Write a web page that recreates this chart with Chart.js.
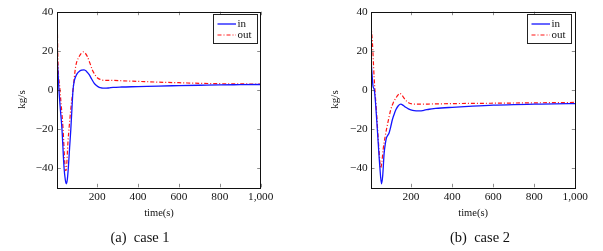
<!DOCTYPE html>
<html>
<head>
<meta charset="utf-8">
<script src="https://cdn.jsdelivr.net/npm/chart.js@4"></script>
<style>
  body { margin: 0; background: #fff; width: 603px; height: 251px; position: relative; overflow: hidden; }
  .box { position: absolute; top: 0; }
  .cap { position: absolute; top: 229px; font: 14.5px "Liberation Serif", serif; color: #111; transform: translateX(-50%); white-space: nowrap; }
</style>
</head>
<body>
<div class="box" style="left:0"><canvas id="case1" width="300" height="251"></canvas></div>
<div class="box" style="left:300px"><canvas id="case2" width="303" height="251"></canvas></div>
<div class="cap" style="left:140px">(a)&nbsp; case 1</div>
<div class="cap" style="left:480px">(b)&nbsp; case 2</div>
<script>
// case 1
const timeIn1 = [5, 9, 13, 20, 28, 38, 44, 49, 54, 59, 65, 71, 77, 82, 88, 95, 103, 112, 124, 136, 148, 161, 173, 185, 198, 210, 222, 234, 255, 278, 320, 400, 500, 600, 700, 800, 900, 1000];
const flowIn1 = [15.4, 8, 0, -10, -20.5, -40, -46, -48.2, -46, -40, -30, -20.5, -9, 0, 4.5, 6.8, 8.4, 9.4, 10, 10.2, 9.4, 7.7, 5.5, 3.4, 2, 1.2, 0.9, 0.8, 0.9, 1.2, 1.4, 1.6, 1.9, 2.1, 2.3, 2.5, 2.6, 2.7];
const timeOut1 = [5, 8, 18, 33, 43, 46, 50, 57, 64, 71, 82, 95, 112, 124, 133, 142, 152, 165, 177, 190, 202, 215, 226, 245, 278, 320, 400, 500, 600, 700, 800, 900, 1000];
const flowOut1 = [33, 15.4, 0, -20, -39.5, -41.5, -40, -27, -18, -10, 0, 12, 17, 18.9, 19.4, 18.7, 17, 13.5, 10, 7.6, 6, 5.3, 4.9, 4.8, 4.8, 4.6, 4.3, 3.9, 3.6, 3.3, 3.1, 3.0, 2.9];

// case 2
const timeIn2 = [5, 10, 15, 21, 28, 36, 48, 56, 62, 69, 75, 80, 86, 93, 101, 109, 117, 126, 138, 150, 162, 174, 187, 199, 215, 239, 265, 288, 320, 400, 500, 600, 700, 800, 900, 1000];
const flowIn2 = [15.4, 8, 1.7, 0, -8, -20.5, -39.5, -48.2, -44, -32.5, -27.5, -24.8, -23.5, -22.2, -19, -15.4, -12.8, -10.3, -8.2, -7.4, -8, -9, -9.8, -10.3, -10.7, -10.8, -10.5, -10, -9.6, -9, -8.4, -7.9, -7.6, -7.4, -7.2, -7.1];
const timeOut2 = [5, 12, 20, 31, 44, 52, 58, 64, 74, 85, 101, 114, 126, 137, 145, 155, 166, 178, 190, 205, 220, 250, 300, 400, 500, 600, 700, 800, 900, 1000];
const flowOut2 = [33, 24, 6.8, -10.3, -30.8, -40.2, -37, -30.8, -23.9, -18, -10.3, -6.5, -4.3, -2.6, -1.9, -2.6, -4.3, -5.8, -6.8, -7.3, -7.4, -7.4, -7.3, -7.1, -7.0, -6.9, -6.8, -6.7, -6.6, -6.5];

const xTicks = [200, 400, 600, 800, 1000];
const yTicks = [-40, -20, 0, 20, 40];
const seriesNames = ['in', 'out'];

const serif = '"Liberation Serif", serif';

function points(xs, ys) {
  return xs.map((x, i) => ({ x: x, y: ys[i] }));
}

// box around plot, inward ticks on all sides, legend in top right
const framePlugin = {
  id: 'frame',
  afterDatasetsDraw(chart) {
    const ctx = chart.ctx;
    const a = chart.chartArea;
    const xs = chart.scales.x, ys = chart.scales.y;
    ctx.save();
    ctx.strokeStyle = 'rgba(0,0,0,0.45)';
    ctx.lineWidth = 1;
    ctx.beginPath();
    xTicks.forEach(v => {
      const px = Math.round(xs.getPixelForValue(v)) + 0.5;
      ctx.moveTo(px, a.bottom); ctx.lineTo(px, a.bottom - 3.5);
      ctx.moveTo(px, a.top); ctx.lineTo(px, a.top + 3.5);
    });
    yTicks.forEach(v => {
      const py = Math.round(ys.getPixelForValue(v)) + 0.5;
      ctx.moveTo(a.left, py); ctx.lineTo(a.left + 3.5, py);
      ctx.moveTo(a.right, py); ctx.lineTo(a.right - 3.5, py);
    });
    ctx.stroke();
    ctx.strokeStyle = '#111';
    ctx.lineWidth = 1;
    ctx.strokeRect(Math.round(a.left) + 0.5, Math.round(a.top) + 0.5, Math.round(a.right - a.left), Math.round(a.bottom - a.top));

    // legend
    const bw = 44, bh = 29;
    const bx = Math.round(a.right - 4 - bw) + 0.5, by = Math.round(a.top + 2) + 0.5;
    ctx.fillStyle = '#fff';
    ctx.fillRect(bx, by, bw, bh);
    ctx.strokeStyle = '#222';
    ctx.strokeRect(bx, by, bw, bh);
    chart.data.datasets.forEach((ds, i) => {
      const ly = by + 9.5 + i * 11;
      ctx.strokeStyle = ds.borderColor;
      ctx.lineWidth = ds.borderWidth;
      ctx.setLineDash(ds.borderDash || []);
      ctx.beginPath();
      ctx.moveTo(bx + 4, ly); ctx.lineTo(bx + 22.5, ly);
      ctx.stroke();
      ctx.setLineDash([]);
      ctx.fillStyle = '#111';
      ctx.font = '11px ' + serif;
      ctx.textBaseline = 'middle';
      ctx.textAlign = 'left';
      ctx.fillText(ds.label, bx + 24, ly);
    });
    ctx.restore();
  }
};

function makeChart(id, inX, inY, outX, outY, yAxisWidth, rightPad, yTitlePad, yTickPad) {
  return new Chart(document.getElementById(id), {
    type: 'line',
    data: {
      datasets: [{
        label: seriesNames[0],
        data: points(inX, inY),
        borderColor: 'rgb(20,20,255)',
        borderWidth: 1.3,
        pointRadius: 0,
        cubicInterpolationMode: 'monotone'
      }, {
        label: seriesNames[1],
        data: points(outX, outY),
        borderColor: 'rgb(255,20,20)',
        borderWidth: 1.2,
        borderDash: [4, 2, 1, 2],
        pointRadius: 0,
        cubicInterpolationMode: 'monotone'
      }]
    },
    options: {
      responsive: false,
      animation: false,
      devicePixelRatio: 1,
      layout: { padding: { top: 11.7, right: rightPad, left: 0, bottom: 0 } },
      plugins: { legend: { display: false }, tooltip: { enabled: false } },
      scales: {
        x: {
          type: 'linear',
          min: 5,
          max: 1000,
          grid: { display: false, drawTicks: false },
          border: { display: false },
          afterBuildTicks: s => { s.ticks = xTicks.map(v => ({ value: v })); },
          afterFit: s => { s.height = 63.7; },
          ticks: {
            padding: 3,
            maxRotation: 0,
            color: '#111',
            font: { family: serif, size: 11.3 },
            callback: v => v.toLocaleString('en-US')
          },
          title: {
            display: true,
            text: 'time(s)',
            color: '#111',
            font: { family: serif, size: 10.5 },
            padding: { top: 0, bottom: 31.7 }
          }
        },
        y: {
          min: -50,
          max: 40,
          grid: { display: false, drawTicks: false },
          border: { display: false },
          afterBuildTicks: s => { s.ticks = yTicks.map(v => ({ value: v })); },
          afterFit: s => { s.width = yAxisWidth; },
          ticks: {
            padding: yTickPad,
            color: '#111',
            font: { family: serif, size: 11.3 },
            callback: v => (v < 0 ? '\u2212' + Math.abs(v) : String(v))
          },
          title: {
            display: true,
            text: 'kg/s',
            color: '#111',
            font: { family: serif, size: 11 },
            padding: { top: yTitlePad, bottom: 0 }
          }
        }
      }
    },
    plugins: [framePlugin]
  });
}

makeChart('case1', timeIn1, flowIn1, timeOut1, flowOut1, 57.3, 39.3, 15.1, 4);
makeChart('case2', timeIn2, flowIn2, timeOut2, flowOut2, 71, 27.7, 28.4, 3.3);
</script>
</body>
</html>
